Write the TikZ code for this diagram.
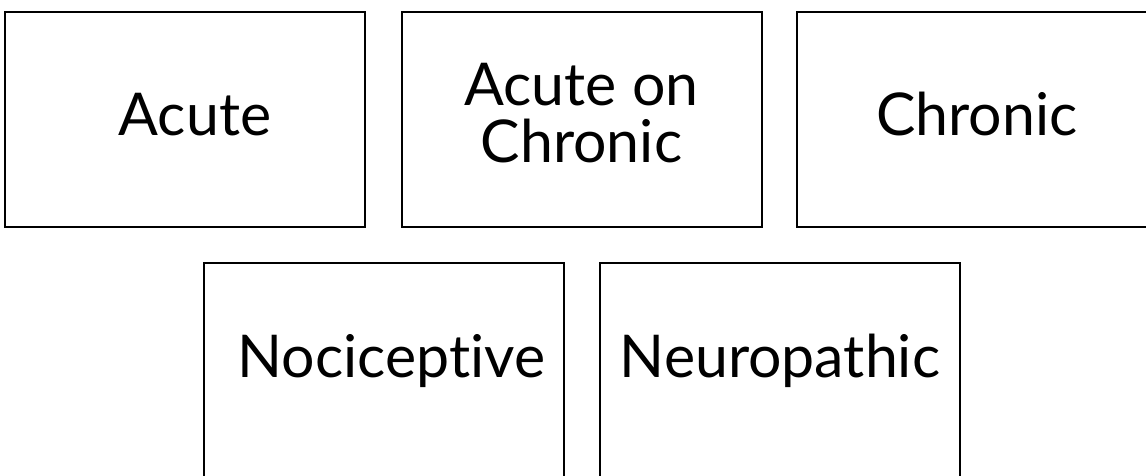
\documentclass[tikz,border=0pt]{standalone}
\usepackage{fontspec}
\setmainfont{Lato}[Ligatures=NoCommon]
\usepackage{tikz}
\tikzstyle{card}=[draw, line width=2pt, minimum width=360pt, minimum height=215pt, inner sep=0pt]
\tikzstyle{caption}=[inner sep=0pt, align=center, font=\fontsize{59}{57}\selectfont]

\begin{document}
\begin{tikzpicture}[x=1pt,y=-1pt]
\clip (0,0) rectangle (1146,475);
\useasboundingbox (0,0) rectangle (1146,475);
% top row
\node[card] (acute) at (185,119.5) {};
\node[card] (aoc) at (581.5,119.5) {};
\node[card] (chronic) at (977,119.5) {};
% bottom row
\node[card] (noci) at (383.5,370.5) {};
\node[card] (neuro) at (780,370.5) {};
% texts
\node[caption, anchor=base] (acute-t) at ([xshift=10pt]acute.center |- 0,135) {Acute};
\node[caption] (aoc-t) at ([yshift=6pt]aoc.center) {Acute on\\Chronic};
\node[caption, anchor=base] (chronic-t) at (chronic.center |- 0,135) {Chronic};
\node[caption, anchor=base] (noci-t) at ([xshift=8pt]noci.center |- 0,377) {Nociceptive};
\node[caption, anchor=base] (neuro-t) at (neuro.center |- 0,377) {Neuropathic};
\end{tikzpicture}
\end{document}
